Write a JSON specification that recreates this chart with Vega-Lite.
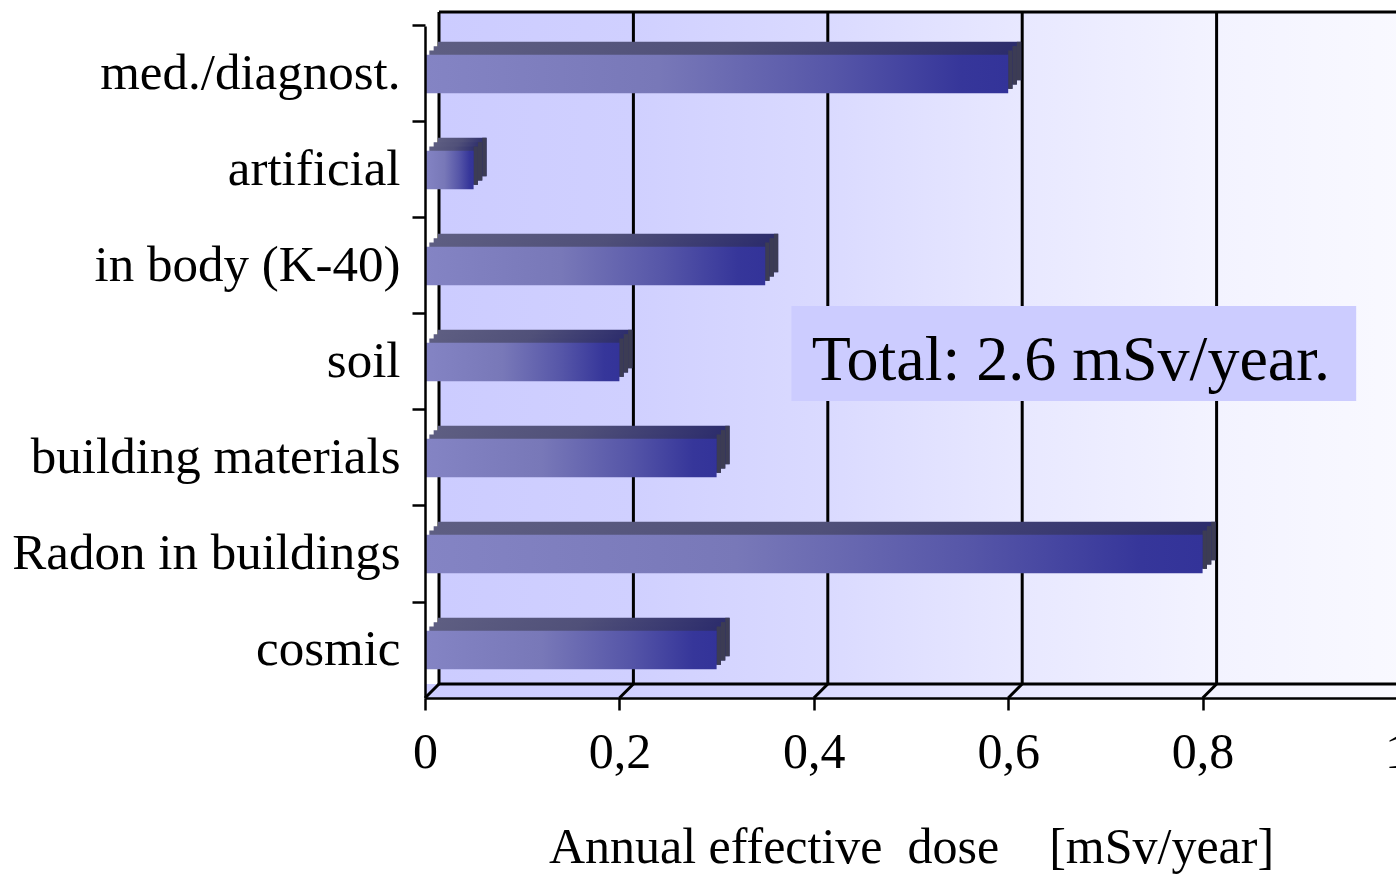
{
  "$schema": "https://vega.github.io/schema/vega-lite/v6.json",
  "width": 972,
  "height": 672,
  "autosize": "none",
  "padding": {"left": 425, "top": 26, "right": 0, "bottom": 176},
  "background": "white",
  "config": {"view": {"stroke": null}, "font": "Liberation Serif"},
  "datasets": {
    "doses": [
      {"source": "med./diagnost.", "dose": 0.6},
      {"source": "artificial", "dose": 0.05},
      {"source": "in body (K-40)", "dose": 0.35},
      {"source": "soil", "dose": 0.2},
      {"source": "building materials", "dose": 0.3},
      {"source": "Radon in buildings", "dose": 0.8},
      {"source": "cosmic", "dose": 0.3}
    ],
    "grid": [{"t": 0}, {"t": 0.2}, {"t": 0.4}, {"t": 0.6}, {"t": 0.8}, {"t": 1}],
    "note": [{"label": "Total: 2.6 mSv/year."}]
  },
  "layer": [
    {
      "data": {"name": "note"},
      "mark": {"type": "rect", "xOffset": 14, "x2Offset": 14, "yOffset": -14, "y2Offset": -14,
        "color": {"gradient": "linear", "x1": 0, "x2": 1, "y1": 0, "y2": 0, "stops": [
          {"offset": 0, "color": "#ccccff"}, {"offset": 0.2, "color": "#d0d0ff"}, {"offset": 0.4, "color": "#dadaff"},
          {"offset": 0.6, "color": "#e8e8ff"}, {"offset": 0.8, "color": "#f3f3ff"}, {"offset": 1, "color": "#f9f9ff"}]}},
      "encoding": {
        "x": {"value": 0},
        "x2": {"value": "width"},
        "y": {"value": 0},
        "y2": {"value": "height"}
      }
    },
    {
      "data": {"name": "note"},
      "mark": {"type": "rect", "x2Offset": 14, "yOffset": -14,
        "color": {"gradient": "linear", "x1": 0, "x2": 1, "y1": 0, "y2": 0, "stops": [
          {"offset": 0, "color": "#ccccff"}, {"offset": 0.2, "color": "#d0d0ff"}, {"offset": 0.4, "color": "#dadaff"},
          {"offset": 0.6, "color": "#e8e8ff"}, {"offset": 0.8, "color": "#f3f3ff"}, {"offset": 1, "color": "#f9f9ff"}]}},
      "encoding": {
        "x": {"value": 0},
        "x2": {"value": "width"},
        "y": {"value": "height"},
        "y2": {"value": "height"}
      }
    },
    {
      "data": {"name": "grid"},
      "mark": {"type": "rule", "xOffset": 14, "yOffset": -14, "y2Offset": -14, "color": "black", "strokeWidth": 3},
      "encoding": {
        "x": {"field": "t", "type": "quantitative", "scale": {"domain": [0, 1], "nice": false}},
        "y": {"value": 0},
        "y2": {"value": "height"}
      }
    },
    {
      "data": {"name": "grid"},
      "mark": {"type": "rule", "x2Offset": 14, "y2Offset": -14, "color": "black", "strokeWidth": 3},
      "encoding": {
        "x": {"field": "t", "type": "quantitative"},
        "x2": {"field": "t"},
        "y": {"value": "height"},
        "y2": {"value": "height"}
      }
    },
    {
      "data": {"name": "note"},
      "mark": {"type": "rule", "xOffset": 14, "x2Offset": 14, "yOffset": -14, "y2Offset": -14, "color": "black", "strokeWidth": 3},
      "encoding": {
        "x": {"value": 0},
        "x2": {"value": "width"},
        "y": {"value": 0},
        "y2": {"value": 0}
      }
    },
    {
      "data": {"name": "note"},
      "mark": {"type": "rule", "xOffset": 14, "x2Offset": 14, "yOffset": -14, "y2Offset": -14, "color": "black", "strokeWidth": 3},
      "encoding": {
        "x": {"value": 0},
        "x2": {"value": "width"},
        "y": {"value": "height"},
        "y2": {"value": "height"}
      }
    },
    {
      "data": {"name": "doses"},
      "mark": {"type": "bar", "xOffset": 13, "x2Offset": 13, "yOffset": -13,
        "color": {"gradient": "linear", "x1": 0, "x2": 1, "y1": 0, "y2": 0, "stops": [
          {"offset": 0, "color": "#5e5e82"}, {"offset": 0.5, "color": "#505079"}, {"offset": 1, "color": "#2c2c6c"}]}},
      "encoding": {
        "y": {"field": "source", "type": "nominal", "sort": ["med./diagnost.", "artificial", "in body (K-40)", "soil", "building materials", "Radon in buildings", "cosmic"], "scale": {"paddingInner": 0.6, "paddingOuter": 0.3},
          "axis": {"title": null, "zindex": 1, "domainColor": "black", "domainWidth": 2.5, "tickColor": "black", "tickWidth": 2.5, "tickSize": 13, "bandPosition": -0.75,
            "labelFont": "Liberation Serif", "labelFontSize": 51, "labelColor": "black", "labelPadding": 12, "labelLimit": 0}},
        "x": {"field": "dose", "type": "quantitative",
          "axis": {"title": "Annual effective\u00a0 dose\u00a0\u00a0\u00a0 [mSv/year]", "zindex": 1, "values": [0, 0.2, 0.4, 0.6, 0.8, 1],
            "labelExpr": "replace(format(datum.value, '.1~f'), '.', ',')", "labelFlush": false, "labelOverlap": false,
            "domainColor": "black", "domainWidth": 2.5, "tickColor": "black", "tickWidth": 2.5, "tickSize": 12, "grid": false,
            "labelFont": "Liberation Serif", "labelFontSize": 50, "labelColor": "black", "labelBaseline": "alphabetic", "labelPadding": 57,
            "titleFont": "Liberation Serif", "titleFontSize": 50, "titleFontWeight": "normal", "titleColor": "black", "titleY": 164, "titleBaseline": "alphabetic"}}
      }
    },
    {
      "data": {"name": "doses"},
      "mark": {"type": "bar", "xOffset": 8.67, "x2Offset": 13, "yOffset": -13, "color": "#3c3c54"},
      "encoding": {
        "y": {"field": "source", "type": "nominal", "sort": ["med./diagnost.", "artificial", "in body (K-40)", "soil", "building materials", "Radon in buildings", "cosmic"]},
        "x": {"field": "dose", "type": "quantitative"},
        "x2": {"field": "dose"}
      }
    },
    {
      "data": {"name": "doses"},
      "mark": {"type": "bar", "xOffset": 8.67, "x2Offset": 8.67, "yOffset": -8.67,
        "color": {"gradient": "linear", "x1": 0, "x2": 1, "y1": 0, "y2": 0, "stops": [
          {"offset": 0, "color": "#5e5e82"}, {"offset": 0.5, "color": "#505079"}, {"offset": 1, "color": "#2c2c6c"}]}},
      "encoding": {
        "y": {"field": "source", "type": "nominal", "sort": ["med./diagnost.", "artificial", "in body (K-40)", "soil", "building materials", "Radon in buildings", "cosmic"]},
        "x": {"field": "dose", "type": "quantitative"}
      }
    },
    {
      "data": {"name": "doses"},
      "mark": {"type": "bar", "xOffset": 4.33, "x2Offset": 8.67, "yOffset": -8.67, "color": "#3c3c54"},
      "encoding": {
        "y": {"field": "source", "type": "nominal", "sort": ["med./diagnost.", "artificial", "in body (K-40)", "soil", "building materials", "Radon in buildings", "cosmic"]},
        "x": {"field": "dose", "type": "quantitative"},
        "x2": {"field": "dose"}
      }
    },
    {
      "data": {"name": "doses"},
      "mark": {"type": "bar", "xOffset": 4.33, "x2Offset": 4.33, "yOffset": -4.33,
        "color": {"gradient": "linear", "x1": 0, "x2": 1, "y1": 0, "y2": 0, "stops": [
          {"offset": 0, "color": "#5e5e82"}, {"offset": 0.5, "color": "#505079"}, {"offset": 1, "color": "#2c2c6c"}]}},
      "encoding": {
        "y": {"field": "source", "type": "nominal", "sort": ["med./diagnost.", "artificial", "in body (K-40)", "soil", "building materials", "Radon in buildings", "cosmic"]},
        "x": {"field": "dose", "type": "quantitative"}
      }
    },
    {
      "data": {"name": "doses"},
      "mark": {"type": "bar", "xOffset": 0, "x2Offset": 4.33, "yOffset": -4.33, "color": "#3c3c54"},
      "encoding": {
        "y": {"field": "source", "type": "nominal", "sort": ["med./diagnost.", "artificial", "in body (K-40)", "soil", "building materials", "Radon in buildings", "cosmic"]},
        "x": {"field": "dose", "type": "quantitative"},
        "x2": {"field": "dose"}
      }
    },
    {
      "data": {"name": "doses"},
      "mark": {"type": "bar",
        "color": {"gradient": "linear", "x1": 0, "x2": 1, "y1": 0, "y2": 0, "stops": [
          {"offset": 0, "color": "#8484c4"}, {"offset": 0.4, "color": "#7878b8"}, {"offset": 0.7, "color": "#5656a8"},
          {"offset": 0.92, "color": "#36369a"}, {"offset": 1, "color": "#333399"}]}},
      "encoding": {
        "y": {"field": "source", "type": "nominal", "sort": ["med./diagnost.", "artificial", "in body (K-40)", "soil", "building materials", "Radon in buildings", "cosmic"]},
        "x": {"field": "dose", "type": "quantitative"}
      }
    },
    {
      "data": {"name": "note"},
      "mark": {"type": "rect", "height": 95, "yOffset": -8.5, "color": "#ccccff"},
      "encoding": {
        "x": {"datum": 0.377, "type": "quantitative"},
        "x2": {"datum": 0.958},
        "y": {"datum": "soil", "type": "nominal"}
      }
    },
    {
      "data": {"name": "note"},
      "mark": {"type": "text", "font": "Liberation Serif", "fontSize": 64, "align": "left", "baseline": "alphabetic", "yOffset": 18, "color": "black"},
      "encoding": {
        "x": {"datum": 0.398, "type": "quantitative"},
        "y": {"datum": "soil", "type": "nominal"},
        "text": {"field": "label"}
      }
    }
  ]
}
